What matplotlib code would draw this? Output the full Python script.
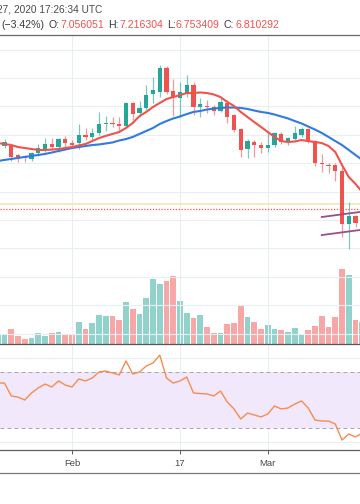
import numpy as np
import pandas as pd
import matplotlib
matplotlib.use("Agg")
import matplotlib.pyplot as plt
import matplotlib.dates as mdates
from matplotlib.lines import Line2D

# ---------------- data ----------------
dates = pd.date_range("2020-01-21", "2020-03-15", freq="D")

opens = [11.28, 11.21, 11.21, 10.58, 10.51, 10.30, 10.72, 11.00, 11.35, 11.14, 11.70,
         11.42, 11.42, 11.99, 11.85, 12.13, 12.76, 12.83, 12.76, 12.62, 14.24, 13.54, 13.89,
         14.87, 15.01, 16.70, 15.08, 14.59, 14.94, 15.51, 13.96, 14.03, 13.96, 13.68, 14.24,
         13.39, 12.41, 11.00, 11.49, 11.28,
         11.07, 11.28, 12.06, 11.49, 11.70, 11.99, 12.41, 11.56, 10.01, 9.87, 9.87, 9.45,
         5.72, 6.28, 5.79]
highs = [11.56, 11.70, 11.28, 10.65, 10.58, 10.79, 11.35, 11.77, 11.77, 11.77, 11.92,
         11.63, 12.76, 12.48, 12.48, 13.61, 13.32, 13.25, 13.25, 14.31, 14.31, 14.38, 15.51,
         16.07, 16.92, 16.85, 15.93, 15.72, 16.21, 15.72, 14.59, 14.45, 14.10, 14.59, 14.45,
         13.46, 12.48, 11.70, 11.63, 11.49,
         12.13, 12.20, 12.20, 11.85, 12.62, 12.55, 12.48, 11.63, 10.65, 10.01, 10.01, 9.73,
         7.27, 6.35, 6.28]
lows = [11.07, 11.07, 10.15, 10.08, 10.08, 10.15, 10.51, 10.79, 11.00, 10.79, 11.14,
        11.07, 11.00, 11.63, 11.63, 11.99, 12.27, 12.55, 12.20, 12.48, 13.04, 13.25, 13.75,
        14.24, 14.66, 14.87, 13.32, 13.25, 14.66, 13.39, 13.25, 13.54, 13.39, 13.61, 12.83,
        12.20, 10.44, 10.37, 10.44, 10.72,
        10.79, 11.14, 11.35, 11.28, 11.63, 11.85, 11.42, 9.80, 9.38, 9.31, 8.75, 4.80,
        3.96, 5.51, 5.58]
closes = [11.35, 11.49, 10.44, 10.44, 10.37, 10.72, 11.07, 11.35, 11.14, 11.70, 11.42,
          11.28, 11.99, 11.85, 12.13, 12.76, 12.83, 12.76, 12.62, 14.24, 13.46, 13.89, 14.80,
          15.15, 16.70, 15.01, 14.66, 15.01, 15.51, 13.96, 14.17, 13.96, 13.68, 14.31, 13.25,
          12.34, 10.93, 11.56, 11.28, 11.07,
          11.28, 12.13, 11.49, 11.77, 12.13, 12.41, 11.49, 10.01, 9.94, 9.80, 9.45, 5.72,
          6.28, 5.79, 6.00]

ema_fast = [11.42, 11.35, 11.28, 11.14, 11.07, 11.00, 10.93, 10.93, 10.96, 11.00, 11.07,
            11.14, 11.25, 11.35, 11.56, 11.77, 11.92, 12.06, 12.20, 12.48, 12.83, 13.32, 13.61,
            13.96, 14.24, 14.52, 14.66, 14.80, 14.94, 14.94, 14.98, 14.94, 14.84, 14.66, 14.31,
            14.03, 13.61, 13.25, 12.90, 12.55,
            12.20, 11.85, 11.56, 11.49, 11.53, 11.63, 11.56, 11.49, 11.42, 11.21, 10.79, 9.87,
            9.03, 8.54, 7.97]
ma_slow = [10.15, 10.23, 10.30, 10.37, 10.44, 10.51, 10.58, 10.65, 10.75, 10.86, 10.96,
           11.07, 11.14, 11.21, 11.28, 11.32, 11.39, 11.46, 11.60, 11.70, 11.85, 12.06, 12.27,
           12.48, 12.76, 12.97, 13.15, 13.29, 13.46, 13.61, 13.68, 13.78, 13.85, 13.89, 13.92,
           13.92, 13.89, 13.82, 13.71, 13.61,
           13.54, 13.43, 13.29, 13.15, 12.97, 12.80, 12.58, 12.37, 12.13, 11.85, 11.56, 11.28,
           10.93, 10.58, 10.23]

volume = [18, 20, 30, 16, 10, 12, 22, 16, 22, 24, 20,
          18, 44, 30, 42, 58, 56, 56, 48, 84, 70, 60, 92, 130, 120, 126, 136, 86, 62, 52, 58,
          34, 22, 22, 40, 42, 76, 54, 44, 30,
          38, 30, 28, 24, 32, 18, 28, 36, 56, 34, 54, 150, 138, 48, 44]

rsi = [62.1, 62.1, 52.9, 52.1, 50.0, 55.0, 58.6, 61.4, 59.3, 63.6, 60.7,
       59.3, 65.0, 63.6, 65.7, 70.0, 70.7, 69.3, 67.9, 77.9, 68.6, 70.0, 74.3, 76.4, 82.1,
       65.7, 62.1, 63.6, 66.4, 55.0, 54.6, 54.3, 52.9, 56.4, 48.6, 43.6, 36.4, 40.7, 39.3, 37.9,
       40.0, 45.7, 43.6, 44.3, 47.1, 49.3, 44.3, 35.7, 35.0, 35.0, 32.9, 21.4, 25.7, 23.6, 26.4]

channel_dates = ["2020-03-09", "2020-03-16"]
channel_upper = [6.21, 6.65]
channel_lower = [4.94, 5.38]

last_price = 6.81
ref_level = 7.10

tick_dates = ["2020-02-01", "2020-02-17", "2020-03-01"]
tick_labels = ["Feb", "17", "Mar"]

header_1 = "27, 2020 17:26:34 UTC"
header_change = "(\u22123.42%)"
header_labels = ["O:", "H:", "L:", "C:"]
header_values = ["7.056051", "7.216304", "6.753409", "6.810292"]

# ---------------- styling / layout ----------------
W, H = 360, 504
UP, DOWN = "#26a69a", "#ef5350"
GRID = "#e9eef3"
FONT = ["Liberation Sans", "DejaVu Sans"]

fig = plt.figure(figsize=(W / 100, H / 100), dpi=100)
fig.patch.set_facecolor("white")


def box(top, bottom):
    return [0, 1 - bottom / H, 1, (bottom - top) / H]


x = mdates.date2num(dates)
feb1 = mdates.date2num(pd.Timestamp("2020-02-01"))
px_day = 6.75
xlim = (feb1 - 72 / px_day, feb1 + (W - 72) / px_day)
xt = mdates.date2num(pd.to_datetime(tick_dates))

o = np.array(opens); h = np.array(highs); l = np.array(lows); c = np.array(closes)
up = c >= o
cols = np.where(up, UP, DOWN)

# volume (behind)
axv = fig.add_axes(box(35.5, 344))
axv.set_xlim(xlim)
axv.set_ylim(0, 2 * 308.5)
axv.bar(x, volume, width=0.84, color=cols, alpha=0.5, linewidth=0)
axv.set_axis_off()

# price pane
ax = fig.add_axes(box(35.5, 344))
ax.patch.set_alpha(0)
ax.set_xlim(xlim)
ax.set_ylim(-2.732, 18.993)
ax.set_xticks(xt)
ax.set_yticks(np.arange(-2, 19, 2))
ax.grid(True, color=GRID, lw=0.8)
ax.set_axisbelow(True)
ax.tick_params(length=0, labelbottom=False, labelleft=False)
for s in ax.spines.values():
    s.set_visible(False)

ax.axhline(ref_level, color="#fbe4bd", lw=1.3, zorder=2)
ax.vlines(x, l, h, colors=cols, lw=0.9, alpha=0.6, zorder=3)
body = np.maximum(np.abs(c - o), 0.07)
ax.bar(x, body, bottom=np.minimum(o, c), width=0.66, color=cols, linewidth=0, zorder=4)
ax.plot(x, ma_slow, color="#2f7be0", lw=1.5, zorder=5)
ax.plot(x, ema_fast, color="#f0524c", lw=1.5, zorder=5)
ax.axhline(last_price, color=DOWN, lw=0.9, ls=(0, (1, 1.3)), zorder=6)
cx = mdates.date2num(pd.to_datetime(channel_dates))
ax.plot(cx, channel_upper, color="#9b4f86", lw=1.3, zorder=7)
ax.plot(cx, channel_lower, color="#9b4f86", lw=1.3, zorder=7)

# RSI pane
axr = fig.add_axes(box(344.5, 450))
axr.set_xlim(xlim)
axr.set_ylim(14.29, 89.64)
axr.set_xticks(xt)
axr.set_xticklabels(tick_labels)
axr.set_yticks([20, 40, 60, 80])
axr.grid(True, color=GRID, lw=0.8)
axr.set_axisbelow(True)
axr.axhspan(30, 70, color="#f2e8fb", lw=0, zorder=1)
for lev in (30, 70):
    axr.axhline(lev, color="#aba3b6", lw=0.72, ls=(0, (4, 3)), zorder=2)
axr.plot(x, rsi, color="#f68d4e", lw=1.0, zorder=3)
for k, s in axr.spines.items():
    s.set_visible(k == "bottom")
axr.spines["bottom"].set_color("#5f5f5f")
axr.spines["bottom"].set_linewidth(0.9)
axr.tick_params(axis="y", length=0, labelleft=False)
axr.tick_params(axis="x", length=3, width=0.72, color="#5f5f5f", pad=3.5,
                labelsize=6.8, labelcolor="#4a4a4a")
for t in axr.get_xticklabels():
    t.set_family(FONT)

# separator lines
def hline(y, color, lw):
    fig.add_artist(Line2D([0, 1], [1 - y / H, 1 - y / H], color=color, lw=lw,
                          transform=fig.transFigure))

hline(35, "#666666", 0.9)
hline(344, "#555555", 0.9)
hline(473, "#7a7a7a", 0.9)

# header text
def ftext(xp, yp, s, color, size=7.6):
    fig.text(xp / W, 1 - yp / H, s, ha="left", va="center", fontsize=size,
             family=FONT, color=color)

ftext(-3, 9.5, header_1, "#4a4a4a", 7.3)
ftext(1, 25, header_change, "#3a3a3a")
lab_x = [49, 108, 167, 224]
val_x = [60, 119, 176, 235]
for lx, vx, lab, val in zip(lab_x, val_x, header_labels, header_values):
    ftext(lx, 25, lab, "#3a3a3a")
    ftext(vx, 25, val, DOWN)

fig.savefig("out.png", dpi=100, facecolor="white")
